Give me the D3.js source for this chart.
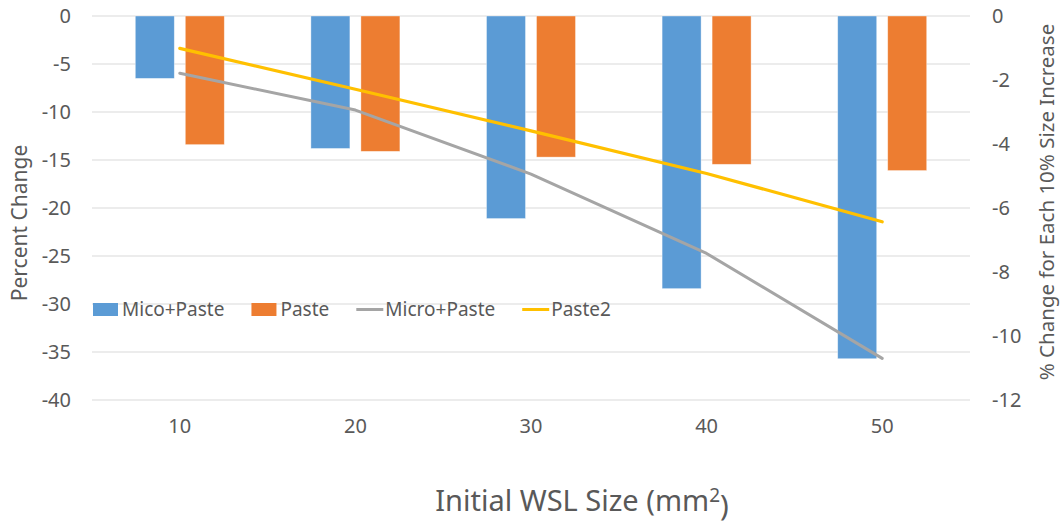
<!DOCTYPE html>
<html>
<head>
<meta charset="utf-8">
<script src="https://cdn.jsdelivr.net/npm/d3@7"></script>
<style>
  body { margin: 0; background: #fff; }
  text { font-family: "Noto Sans", "Open Sans", sans-serif; fill: #595959; }
</style>
</head>
<body>
<div id="chart"></div>
<script>
// data
var sizes = ["10", "20", "30", "40", "50"];
var micoPaste = [-6.5, -13.8, -21.1, -28.4, -35.7];
var paste = [-13.4, -14.1, -14.7, -15.45, -16.1];
var microPasteLine = [-1.79, -2.94, -4.94, -7.42, -10.7];
var paste2Line = [-1.01, -2.29, -3.59, -4.92, -6.43];
var leftTicks = [0, -5, -10, -15, -20, -25, -30, -35, -40];
var rightTicks = [0, -2, -4, -6, -8, -10, -12];

var width = 1063, height = 522;
var margin = {top: 16, right: 93, bottom: 122, left: 92};

// excel style hyphen, not the unicode minus d3 uses
var plain = function(d) { return String(d); };

var svg = d3.select("#chart").append("svg")
    .attr("width", width)
    .attr("height", height);

var x = d3.scaleBand()
    .domain(sizes)
    .range([margin.left, width - margin.right])
    .padding(0);

var y = d3.scaleLinear()
    .domain([-40, 0])
    .range([height - margin.bottom, margin.top]);

var y2 = d3.scaleLinear()
    .domain([-12, 0])
    .range([height - margin.bottom, margin.top]);

var groupW = 89;
var x1 = d3.scaleBand()
    .domain(["mico", "paste"])
    .range([x.bandwidth() / 2 - groupW / 2, x.bandwidth() / 2 + groupW / 2])
    .paddingInner(0.22)
    .paddingOuter(0);

// gridlines
svg.append("g")
    .selectAll("line")
    .data(leftTicks)
    .enter().append("line")
    .attr("x1", margin.left)
    .attr("x2", width - margin.right)
    .attr("y1", function(d) { return y(d); })
    .attr("y2", function(d) { return y(d); })
    .style("stroke", "#d9d9d9")
    .style("stroke-width", 1);

// left axis
var yAxis = svg.append("g")
    .attr("transform", "translate(" + (margin.left - 21) + ",0)")
    .call(d3.axisLeft(y).tickValues(leftTicks).tickFormat(plain).tickSize(0).tickPadding(0));
yAxis.select(".domain").remove();
yAxis.selectAll("text").style("font-size", "20px").style("fill", "#595959")
    .style("font-family", '"Noto Sans", sans-serif');

// right axis
var y2Axis = svg.append("g")
    .attr("transform", "translate(" + (width - margin.right + 22) + ",0)")
    .call(d3.axisRight(y2).tickValues(rightTicks).tickFormat(plain).tickSize(0).tickPadding(0));
y2Axis.select(".domain").remove();
y2Axis.selectAll("text").style("font-size", "20px").style("fill", "#595959")
    .style("font-family", '"Noto Sans", sans-serif');

// bottom axis labels
var xAxis = svg.append("g")
    .attr("transform", "translate(0," + (height - margin.bottom + 19) + ")")
    .call(d3.axisBottom(x).tickSize(0).tickPadding(0));
xAxis.select(".domain").remove();
xAxis.selectAll("text").style("font-size", "20px").style("fill", "#595959")
    .style("font-family", '"Noto Sans", sans-serif');

// bars
var rows = sizes.map(function(s, i) {
  return {size: s, vals: [{key: "mico", v: micoPaste[i]}, {key: "paste", v: paste[i]}]};
});
var colors = {mico: "#5b9bd5", paste: "#ed7d31"};

svg.append("g")
    .selectAll("g")
    .data(rows)
    .enter().append("g")
    .attr("transform", function(d) { return "translate(" + x(d.size) + ",0)"; })
    .selectAll("rect")
    .data(function(d) { return d.vals; })
    .enter().append("rect")
    .attr("x", function(d) { return x1(d.key); })
    .attr("width", x1.bandwidth())
    .attr("y", y(0))
    .attr("height", function(d) { return y(d.v) - y(0); })
    .style("fill", function(d) { return colors[d.key]; })
    .style("stroke", "#ffffff")
    .style("stroke-opacity", 0.5)
    .style("stroke-width", 0.75);

// lines on secondary axis
var line = d3.line()
    .x(function(d, i) { return x(sizes[i]) + x.bandwidth() / 2; })
    .y(function(d) { return y2(d); });

svg.append("path")
    .datum(microPasteLine)
    .attr("d", line)
    .style("fill", "none")
    .style("stroke", "#a5a5a5")
    .style("stroke-width", 3)
    .style("stroke-linecap", "round")
    .style("stroke-linejoin", "round");

svg.append("path")
    .datum(paste2Line)
    .attr("d", line)
    .style("fill", "none")
    .style("stroke", "#ffc000")
    .style("stroke-width", 3.2)
    .style("stroke-linecap", "round")
    .style("stroke-linejoin", "round");

// legend
var legendItems = [
  {name: "Mico+Paste", type: "rect", color: "#5b9bd5"},
  {name: "Paste", type: "rect", color: "#ed7d31"},
  {name: "Micro+Paste", type: "line", color: "#a5a5a5"},
  {name: "Paste2", type: "line", color: "#ffc000"}
];
var legend = svg.append("g").attr("class", "legend");
var lx = 93, ly = 309.5;
legendItems.forEach(function(it) {
  if (it.type == "rect") {
    legend.append("rect")
        .attr("x", lx).attr("y", ly - 6.5)
        .attr("width", 25).attr("height", 13)
        .style("fill", it.color);
  } else {
    legend.append("line")
        .attr("x1", lx).attr("x2", lx + 27)
        .attr("y1", ly).attr("y2", ly)
        .style("stroke", it.color)
        .style("stroke-width", 3);
  }
  var t = legend.append("text")
      .attr("x", lx + 29)
      .attr("y", ly)
      .attr("dy", "0.35em")
      .style("font-size", "19px")
      .text(it.name);
  lx = lx + 29 + t.node().getComputedTextLength() + 27;
});

// axis titles
svg.append("text")
    .attr("transform", "translate(27," + ((y(0) + y(-40)) / 2 + 15) + ") rotate(-90)")
    .attr("text-anchor", "middle")
    .style("font-size", "21px")
    .text("Percent Change");

svg.append("text")
    .attr("transform", "translate(1054," + ((y(0) + y(-40)) / 2 - 6) + ") rotate(-90)")
    .attr("text-anchor", "middle")
    .style("font-size", "20.5px")
    .text("% Change for Each 10% Size Increase");

var xt = svg.append("text")
    .attr("x", 582)
    .attr("y", 511)
    .attr("text-anchor", "middle")
    .style("font-size", "29px");
xt.append("tspan").text("Initial WSL Size (mm");
xt.append("tspan").attr("dy", "-0.45em").style("font-size", "19px").text("2");
xt.append("tspan").attr("dy", "0.45em").text(")");
</script>
</body>
</html>
